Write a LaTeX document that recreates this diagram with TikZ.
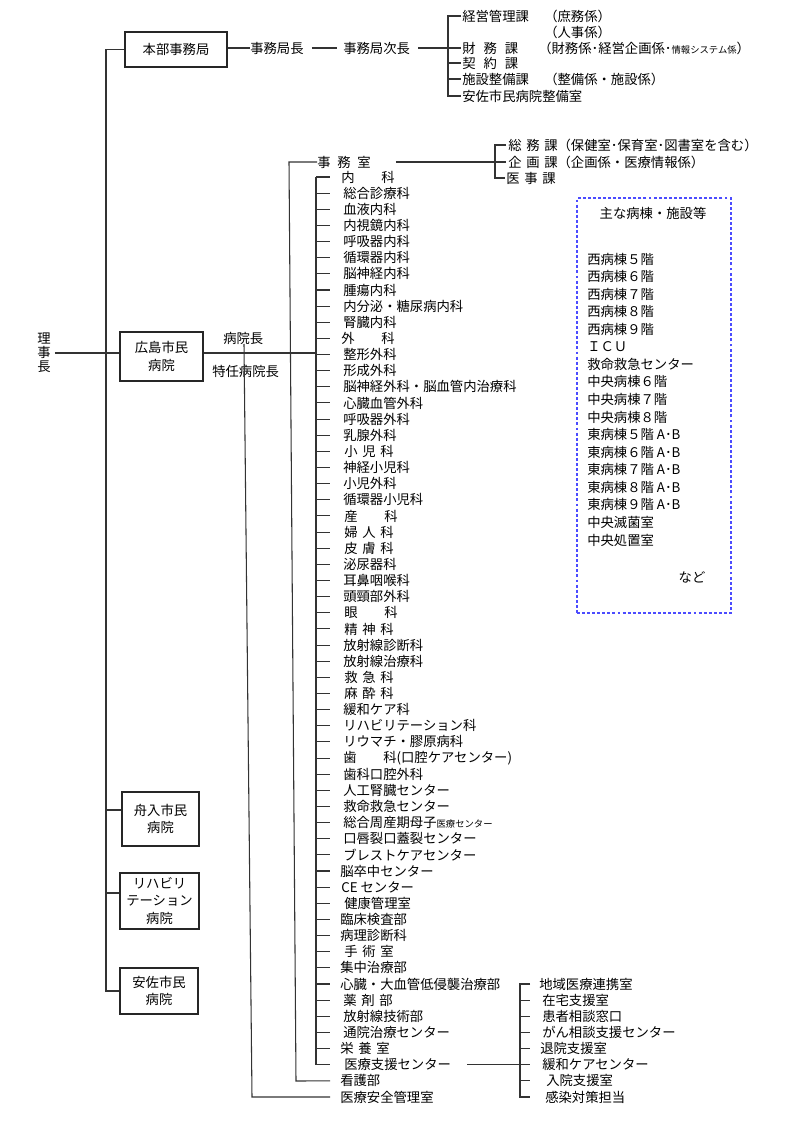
\documentclass[tikz,border=0pt]{standalone}
\usepackage{fontspec}
\setmainfont{Noto Sans CJK JP}
\usetikzlibrary{calc}
\newcommand\hsp{\hspace{0.35em}}
\newcommand\qsp{\hspace{1em}}
\newcommand\smallj[1]{{\fontsize{7pt}{8pt}\selectfont #1}}
\begin{document}
\begin{tikzpicture}[x=0.75pt,y=-0.75pt,
  lbl/.style={inner sep=0pt,anchor=west,font=\fontsize{10pt}{12pt}\selectfont},
  orgbox/.style={draw=black!85,line width=0.9pt,inner sep=0pt,align=center,font=\fontsize{10pt}{13pt}\selectfont},
  ln/.style={draw=black!80,line width=0.8pt},
  wardbox/.style={draw=blue!70,dash pattern=on 2.2pt off 1.6pt,line width=0.8pt,inner sep=0pt}
]
\useasboundingbox (0,0) rectangle (800,1123);
\fill[white] (0,0) rectangle (800,1123);

% ---------- boxes ----------
\node[orgbox,minimum width=102*0.75pt,minimum height=35*0.75pt] (hq) at (176,49.5) {本部事務局};
\node[orgbox,minimum width=83*0.75pt,minimum height=49*0.75pt] (hiro) at (161.5,356.5) {広島市民\\病院};
\node[orgbox,minimum width=77*0.75pt,minimum height=54*0.75pt] (funa) at (160.5,819) {舟入市民\\病院};
\node[orgbox,minimum width=79*0.75pt,minimum height=56*0.75pt] (reha) at (159.5,901) {リハビリ\\テーション\\病院};
\node[orgbox,minimum width=78*0.75pt,minimum height=46*0.75pt] (asa) at (159,991) {安佐市民\\病院};

\node[inner sep=0pt,align=center,font=\fontsize{10pt}{10.5pt}\selectfont] (ceo) at (44,353) {理\\事\\長};

% ---------- trunk ----------
\coordinate (trtop) at (106,49.5);
\coordinate (trbot) at (106,991);
\draw[ln] (hq.west) -- (trtop) -- (trbot) -- (asa.west);
\draw[ln,shorten <=3pt] (ceo.east) -- (ceo.east -| hiro.west);
\draw[ln] ($(funa.west)+(0,-9)$) -- ($(trtop |- funa.west)+(0,-9)$);
\draw[ln] ($(reha.west)+(0,-8)$) -- ($(trtop |- reha.west)+(0,-8)$);

% ---------- head office ----------
\node[lbl] (kc) at (250,48) {事務局長};
\node[lbl] (kj) at (343,48) {事務局次長};
\draw[ln] (hq.east |- kc.west) -- (kc.west);
\draw[ln] ($(kc.east)+(8,0)$) -- ($(kj.west)+(-6,0)$);
\coordinate (b1t) at (448,16);
\coordinate (b1b) at (448,96);

\node[lbl] (k1) at (462,16) {経営管理課};
\node[lbl] (k1a) at (544,16) {（庶務係）};
\node[lbl] (k1b) at (544,32) {（人事係）};
\node[lbl] (k2) at (462,48) {財\hspace{0.6em}務\hspace{0.6em}課};
\node[lbl] (k2a) at (538,48) {（財務係･経営企画係･\smallj{情報システム係}）};
\node[lbl] (k3) at (462,63) {契\hspace{0.6em}約\hspace{0.6em}課};
\node[lbl] (k4) at (462,79) {施設整備課};
\node[lbl] (k4a) at (544,79) {（整備係・施設係）};
\node[lbl] (k5) at (462,96) {安佐市民病院整備室};
\draw[ln] ($(kj.east)+(8,0)$) -- ($(k2.west)+(-1,0)$);
\draw[ln] ($(k1.west)+(-1,0)$) -- (b1t) -- (b1b) -- ($(k5.west)+(-1,0)$);
\foreach \n in {k3,k4} \draw[ln] (b1t |- \n.west) -- ($(\n.west)+(-1,0)$);

% ---------- hospital management ----------
\node[lbl] (dir) at (223,338) {病院長};
\node[lbl] (sdir) at (212,371) {特任病院長};

\node[lbl] (jm) at (317,162) {事\hspace{0.5em}務\hspace{0.5em}室};
\node[lbl] (s1) at (508,145) {総\hsp 務\hsp 課（保健室･保育室･図書室を含む）};
\node[lbl] (s2) at (508,162) {企\hsp 画\hsp 課（企画係・医療情報係）};
\node[lbl] (s3) at (506,178) {医\hsp 事\hsp 課};
\coordinate (b2t) at (495,145);
\coordinate (b2b) at (495,178);
\draw[ln] ($(jm.east)+(25,0)$) -- ($(s2.west)+(-2,0)$);
\draw[ln] ($(s1.west)+(-2,0)$) -- (b2t) -- (b2b) -- ($(s3.west)+(-1,0)$);

% ---------- departments ----------
\foreach \i/\x/\t in {
 1/341/内\qsp\qsp 科, 2/343/総合診療科, 3/343/血液内科, 4/343/内視鏡内科,
 5/343/呼吸器内科, 6/343/循環器内科, 7/343/脳神経内科, 8/343/腫瘍内科,
 9/343/内分泌・糖尿病内科, 10/343/腎臓内科, 11/341/外\qsp\qsp 科, 12/343/整形外科,
 13/343/形成外科, 14/343/脳神経外科・脳血管内治療科, 15/343/心臓血管外科, 16/343/呼吸器外科,
 17/343/乳腺外科, 18/344/小\hsp 児\hsp 科, 19/343/神経小児科, 20/343/小児外科,
 21/343/循環器小児科, 22/344/産\qsp\qsp 科, 23/344/婦\hsp 人\hsp 科, 24/344/皮\hsp 膚\hsp 科,
 25/343/泌尿器科, 26/343/耳鼻咽喉科, 27/343/頭頸部外科, 28/344/眼\qsp\qsp 科,
 29/344/精\hsp 神\hsp 科, 30/343/放射線診断科, 31/343/放射線治療科, 32/344/救\hsp 急\hsp 科,
 33/344/麻\hsp 酔\hsp 科, 34/343/緩和ケア科, 35/343/リハビリテーション科, 36/343/リウマチ・膠原病科,
 37/343/歯\qsp\qsp 科(口腔ケアセンター), 38/343/歯科口腔外科, 39/343/人工腎臓センター, 40/343/救命救急センター,
 41/343/総合周産期母子\smallj{医療センター}, 42/343/口唇裂口蓋裂センター, 43/343/ブレストケアセンター, 44/340/脳卒中センター,
 45/341/CE センター, 46/344/健康管理室, 47/340/臨床検査部, 48/340/病理診断科,
 49/344/手\hsp 術\hsp 室, 50/340/集中治療部, 51/340/心臓・大血管低侵襲治療部, 52/343/薬\hsp 剤\hsp 部,
 53/343/放射線技術部, 54/343/通院治療センター, 55/340/栄\hsp 養\hsp 室, 56/344/医療支援センター,
 57/340/看護部, 58/340/医療安全管理室}
 { \node[lbl] (d\i) at (\x,{177+(\i-1)*16.14}) {\t}; }

\coordinate (spt) at (316,177);
\coordinate (spb) at (316,1065);
\draw[ln] (spt) -- (spb);
\foreach \i in {1,...,56} \draw[ln] (spt |- d\i.west) -- ++(14,0);

% hospital box to department spine
\draw[ln] ($(hiro.east)+(0,-3.5)$) -- ($(spt |- hiro.east)+(0,-3.5)$);

% 事務室 line and 看護部
\coordinate (jmt) at (289,162);
\coordinate (jmb) at (296,1081);
\draw[ln] (jm.west) -- (jmt) -- (jmb) -- ($(d57.west)+(-10,0)$);

% 病院長 line and 医療安全管理室
\coordinate (dirt) at (244,344);
\coordinate (dirb) at (252,1097);
\draw[ln] (dirt) -- (dirb) -- ($(d58.west)+(-10,0)$);

% ---------- medical support center ----------
\foreach \j/\x/\t in {51/539/地域医療連携室, 52/542/在宅支援室, 53/542/患者相談窓口,
 54/542/がん相談支援センター, 55/540/退院支援室, 56/542/緩和ケアセンター,
 57/546/入院支援室, 58/545/感染対策担当}
 { \node[lbl] (m\j) at (\x,{177+(\j-1)*16.14}) {\t}; }
\coordinate (b3t) at (520,984);
\draw[ln] ($(m51.west)+(-9,0)$) -- (b3t |- m51.west) -- (b3t |- m58.west) -- ($(m58.west)+(-15,0)$);
\foreach \j in {52,...,57} \draw[ln] (b3t |- m\j.west) -- ++(10,0);
\draw[ln] ($(d56.east)+(16,0)$) -- (b3t |- d56.west);

% ---------- wards box ----------
\node[wardbox,minimum width=154*0.75pt,minimum height=415*0.75pt] (wards) at (654,405.5) {};
\node[lbl,anchor=center] (wt) at (653,213) {主な病棟・施設等};
\foreach \k/\t in {0/西病棟５階, 1/西病棟６階, 2/西病棟７階, 3/西病棟８階, 4/西病棟９階,
 5/ＩＣＵ, 6/救命救急センター, 7/中央病棟６階, 8/中央病棟７階, 9/中央病棟８階,
 10/東病棟５階 A･B, 11/東病棟６階 A･B, 12/東病棟７階 A･B, 13/東病棟８階 A･B, 14/東病棟９階 A･B,
 15/中央滅菌室, 16/中央処置室}
 { \node[lbl] (w\k) at (587,{259+\k*17.56}) {\t}; }
\node[lbl,anchor=center] (etc) at (692,577) {など};
\end{tikzpicture}
\end{document}
